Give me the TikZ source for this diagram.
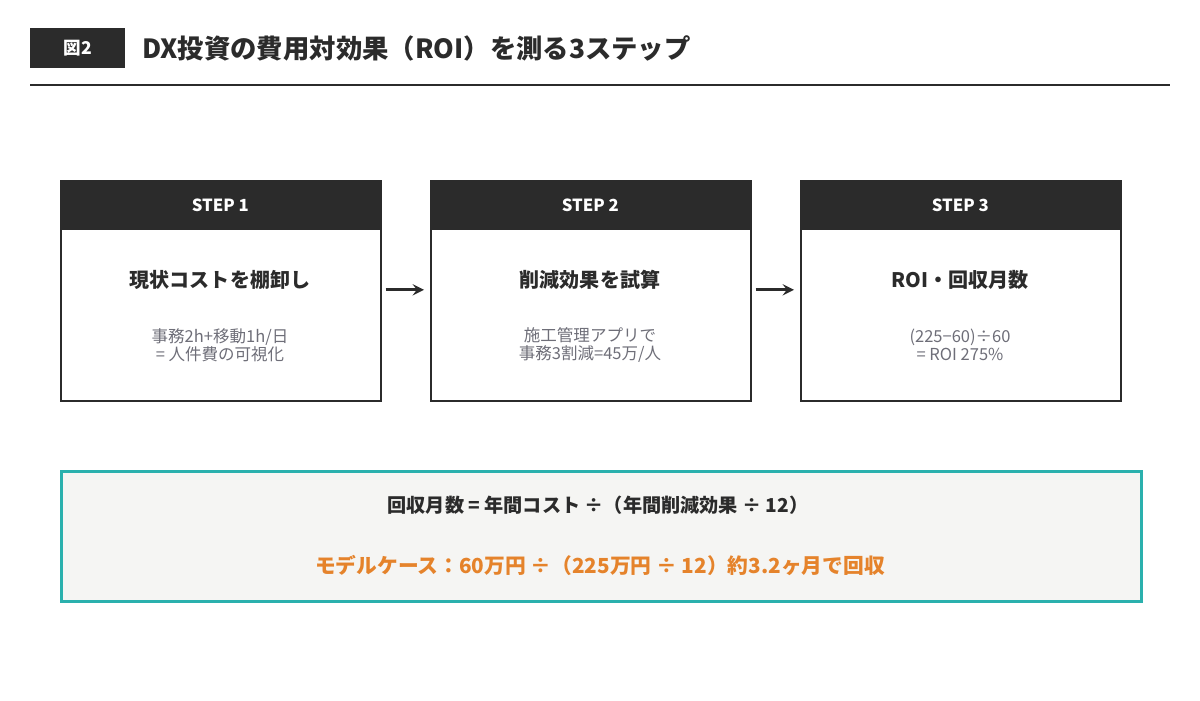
\documentclass[tikz,border=0pt]{standalone}
\usepackage{fontspec}
\setmainfont{Noto Sans CJK JP}
\usetikzlibrary{positioning}
\definecolor{darkbar}{HTML}{2B2B2B}
\definecolor{subgray}{HTML}{6E6E78}
\definecolor{panelbg}{HTML}{F5F5F3}
\definecolor{tealline}{HTML}{2AB0AD}
\definecolor{caseorange}{HTML}{E5832B}
\begin{document}
\begin{tikzpicture}[x=0.02cm, y=-0.02cm,
    stepbox/.style={draw=darkbar, line width=0.9pt, minimum width=6.4cm, minimum height=4.4cm, anchor=north west},
    stephead/.style={fill=darkbar, text=white, minimum width=6.4cm, minimum height=1cm, anchor=north west, font=\fontsize{9.5}{11}\selectfont\bfseries},
    steptitle/.style={font=\fontsize{11.4}{13}\selectfont\bfseries, text=darkbar},
    stepsub/.style={font=\fontsize{9.4}{10}\selectfont, text=subgray, align=center},
    flow/.style={-stealth, line width=1.8pt, darkbar}]
    \useasboundingbox (0,0) rectangle (1200,700);
    \node[fill=darkbar, text=white, minimum width=1.9cm, minimum height=0.8cm, anchor=north west, font=\fontsize{10}{11}\selectfont\bfseries] (badge) at (30,28) {図2};
    \node[anchor=west, font=\fontsize{15}{17}\selectfont\bfseries, text=darkbar] (title) at (136,48) {DX投資の費用対効果（ROI）を測る3ステップ};
    \draw[line width=1.1pt, darkbar] (30,85) -- (1170,85);

    \node[stepbox] (box1) at (60,180) {};
    \node[stephead] (head1) at (60,180) {STEP 1};
    \node[steptitle] (main1) at (220,280) {現状コストを棚卸し};
    \node[stepsub] (sub1) at (220,345) {事務2h+移動1h/日\\= 人件費の可視化};

    \node[stepbox] (box2) at (430,180) {};
    \node[stephead] (head2) at (430,180) {STEP 2};
    \node[steptitle] (main2) at (590,280) {削減効果を試算};
    \node[stepsub] (sub2) at (590,345) {施工管理アプリで\\事務3割減=45万/人};

    \node[stepbox] (box3) at (800,180) {};
    \node[stephead] (head3) at (800,180) {STEP 3};
    \node[steptitle] (main3) at (960,280) {ROI・回収月数};
    \node[stepsub] (sub3) at (960,345) {(225−60)÷60\\= ROI 275\%};

    \draw[flow] (box1.east) ++(4,-1) -- ([shift={(-6,-1)}]box2.west);
    \draw[flow] (box2.east) ++(4,-1) -- ([shift={(-6,-1)}]box3.west);

    \node[draw=tealline, fill=panelbg, line width=1.6pt, minimum width=21.6cm, minimum height=2.6cm, anchor=north west] (panel) at (60,470) {};
    \node[font=\fontsize{10.9}{12}\selectfont\bfseries, text=darkbar] (formula) at (598,505) {回収月数 = 年間コスト ÷（年間削減効果 ÷ 12）};
    \node[font=\fontsize{11.8}{13}\selectfont\bfseries, text=caseorange] (example) at (600,565) {モデルケース：60万円 ÷（225万円 ÷ 12）約3.2ヶ月で回収};
\end{tikzpicture}
\end{document}
